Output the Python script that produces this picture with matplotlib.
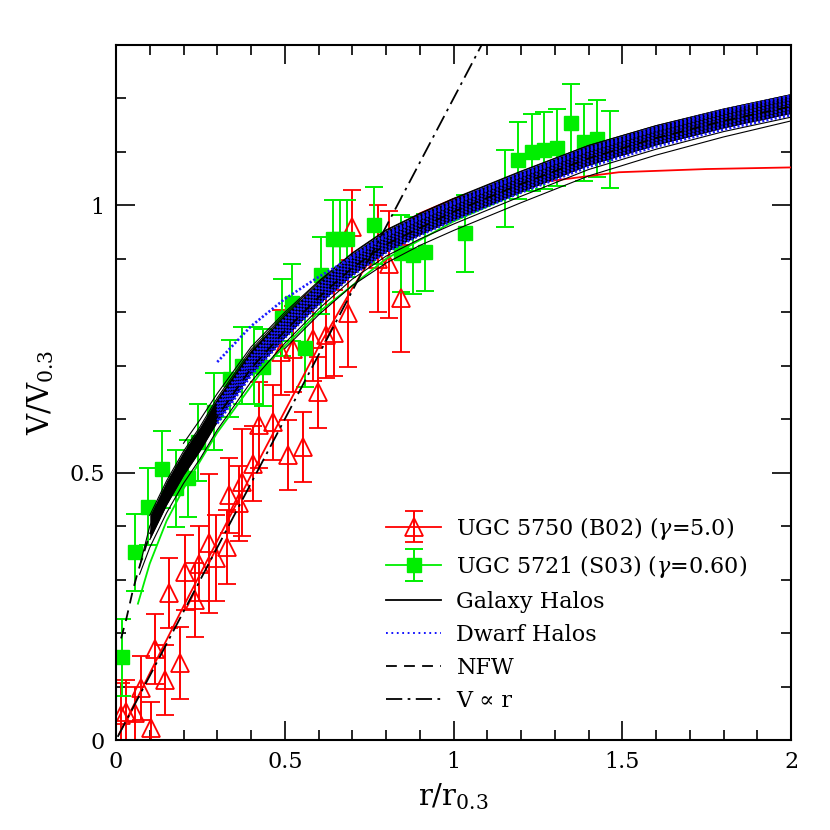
import numpy as np
import matplotlib
matplotlib.use("Agg")
import matplotlib.pyplot as plt
from matplotlib.legend_handler import HandlerErrorbar

plt.rcParams['font.family'] = ['DejaVu Serif']
plt.rcParams['mathtext.fontset'] = 'dejavuserif'

# ---------------- data ----------------
# UGC 5750 (B02)
red_x = [0.015, 0.03, 0.056, 0.074, 0.104, 0.116, 0.145, 0.157, 0.19, 0.204, 0.234, 0.246,
         0.276, 0.296, 0.329, 0.335, 0.364, 0.373, 0.406, 0.424, 0.465, 0.49, 0.51, 0.525,
         0.554, 0.584, 0.598, 0.622, 0.646, 0.687, 0.70, 0.776, 0.81, 0.844]
red_y = [0.047, 0.052, 0.050, 0.097, 0.022, 0.170, 0.112, 0.275, 0.144, 0.314, 0.262, 0.330,
         0.368, 0.340, 0.361, 0.458, 0.443, 0.482, 0.517, 0.589, 0.594, 0.725, 0.533, 0.731,
         0.548, 0.751, 0.650, 0.757, 0.761, 0.798, 0.959, 0.900, 0.890, 0.826]
red_err = [0.06, 0.06, 0.05, 0.06, 0.05, 0.065, 0.065, 0.065, 0.068, 0.07, 0.07, 0.07,
           0.13, 0.08, 0.07, 0.07, 0.07, 0.10, 0.07, 0.08, 0.07, 0.08, 0.065, 0.08,
           0.065, 0.08, 0.067, 0.08, 0.08, 0.10, 0.07, 0.10, 0.10, 0.10]

# UGC 5721 (S03)
grn_x = [0.018, 0.056, 0.095, 0.136, 0.178, 0.213, 0.243, 0.29, 0.338, 0.373, 0.41, 0.437,
         0.492, 0.521, 0.56, 0.607, 0.643, 0.664, 0.685, 0.764, 0.843, 0.88, 0.916, 1.034,
         1.153, 1.19, 1.233, 1.268, 1.307, 1.348, 1.387, 1.425, 1.464]
grn_y = [0.155, 0.351, 0.436, 0.506, 0.471, 0.490, 0.557, 0.614, 0.676, 0.700, 0.700, 0.697,
         0.790, 0.818, 0.733, 0.869, 0.938, 0.938, 0.938, 0.963, 0.910, 0.907, 0.912, 0.948,
         1.032, 1.084, 1.099, 1.103, 1.108, 1.155, 1.118, 1.125, 1.105]
grn_err = [0.072] * len(grn_x)

# fits to the two galaxies
rfit_x = [0.01, 0.2, 0.4, 0.6, 0.7, 0.75, 0.8, 0.9, 1.0, 1.1, 1.23, 1.49, 1.75, 2.0]
rfit_y = [0.012, 0.25, 0.495, 0.735, 0.845, 0.895, 0.935, 0.985, 1.012, 1.028, 1.041, 1.062, 1.068, 1.071]
gfit_x = [0.065, 0.1, 0.15, 0.2, 0.3, 0.45, 0.6, 0.8, 1.0, 1.4, 2.0]
gfit_y = [0.255, 0.33, 0.41, 0.47, 0.575, 0.705, 0.80, 0.90, 0.97, 1.08, 1.18]

# Galaxy halos (solid black) band
halo_x = [0.07, 0.10, 0.15, 0.20, 0.25, 0.30, 0.40, 0.50, 0.60, 0.70, 0.80, 0.90, 1.00, 1.20, 1.40, 1.60, 1.80, 2.00]
gal_upper = [np.nan, 0.42, 0.485, 0.54, 0.587, 0.64, 0.73, 0.796, 0.856, 0.91, 0.953, 0.984, 1.012, 1.063, 1.112, 1.149, 1.18, 1.207]
gal_core_lo = [np.nan, 0.375, 0.44, 0.495, 0.542, 0.595, 0.685, 0.753, 0.815, 0.87, 0.913, 0.945, 0.973, 1.025, 1.075, 1.113, 1.145, 1.172]
gal_low_a = [0.31, 0.36, 0.425, 0.48, 0.527, 0.58, 0.67, 0.742, 0.806, 0.862, 0.905, 0.937, 0.965, 1.017, 1.067, 1.105, 1.138, 1.165]
gal_low_b = [np.nan, np.nan, np.nan, np.nan, np.nan, np.nan, np.nan, 0.732, 0.795, 0.85, 0.892, 0.925, 0.953, 1.005, 1.055, 1.094, 1.128, 1.158]
gal_mid = [0.325, 0.40, 0.465, 0.52, 0.566, 0.618, 0.708, 0.775, 0.836, 0.89, 0.933, 0.965, 0.993, 1.045, 1.094, 1.132, 1.163, 1.19]
gal_high = [np.nan, np.nan, np.nan, 0.555, 0.60, 0.648, 0.735, 0.80, 0.858, 0.911, 0.954, 0.985, 1.013, 1.064, 1.112, 1.149, 1.18, 1.207]

# Dwarf halos (dotted blue)
dwarf_x = [0.30, 0.40, 0.50, 0.60, 0.70, 0.80, 0.90, 1.00, 1.20, 1.40, 1.60, 1.80, 2.00]
dwarf_curves = [
    [0.592, 0.682, 0.752, 0.814, 0.869, 0.912, 0.944, 0.972, 1.024, 1.072, 1.110, 1.142, 1.169],
    [0.598, 0.688, 0.758, 0.820, 0.875, 0.918, 0.950, 0.978, 1.030, 1.078, 1.116, 1.148, 1.175],
    [0.604, 0.694, 0.764, 0.826, 0.881, 0.924, 0.956, 0.984, 1.036, 1.084, 1.122, 1.154, 1.181],
    [0.610, 0.700, 0.770, 0.832, 0.887, 0.930, 0.962, 0.990, 1.042, 1.090, 1.128, 1.160, 1.187],
    [0.616, 0.706, 0.776, 0.838, 0.893, 0.936, 0.968, 0.996, 1.048, 1.096, 1.134, 1.166, 1.193],
    [0.622, 0.712, 0.782, 0.844, 0.899, 0.942, 0.974, 1.002, 1.054, 1.102, 1.140, 1.172, 1.199],
    [0.628, 0.718, 0.788, 0.850, 0.905, 0.948, 0.980, 1.008, 1.060, 1.108, 1.146, 1.178, 1.205],
    [0.707, 0.774, 0.825, 0.866, 0.903, 0.944, 0.976, 1.004, 1.056, 1.105, 1.143, 1.176, 1.204],
]

# NFW
nfw_x = [0.015, 0.03, 0.05, 0.065, 0.1, 0.15, 0.2, 0.3, 0.4, 0.5, 0.6, 0.7, 0.8, 1.0, 1.2, 1.4, 1.6, 1.8, 2.0]
nfw_y = [0.19, 0.225, 0.28, 0.315, 0.385, 0.455, 0.51, 0.605, 0.695, 0.765, 0.828, 0.883, 0.927, 0.988, 1.04, 1.088, 1.126, 1.158, 1.185]

# V proportional to r
vr_x = [0.005, 1.1]
vr_y = [0.006, 1.32]

labels = ["UGC 5750 (B02) ($\\gamma$=5.0)", "UGC 5721 (S03) ($\\gamma$=0.60)",
          "Galaxy Halos", "Dwarf Halos", "NFW", "V \u221d r"]

GREEN = '#00ee00'
BLUE = '#1a1aff'

# ---------------- plot ----------------
fig = plt.figure(figsize=(8.3, 8.3), dpi=100)
ax = fig.add_axes([116 / 830, 90 / 830, 675 / 830, 695 / 830])

ekw = dict(capsize=6.5, elinewidth=1.4, capthick=1.4, linestyle='none')
ax.errorbar(red_x, red_y, yerr=red_err, fmt='^', color='red', mfc='none', mec='red',
            ms=13, mew=1.3, zorder=2, **ekw)
ax.errorbar(grn_x, grn_y, yerr=grn_err, fmt='s', color=GREEN, mfc=GREEN, mec=GREEN,
            ms=9.5, zorder=2, **ekw)

ax.plot(rfit_x, rfit_y, color='red', lw=1.3, zorder=3)
ax.plot(gfit_x, gfit_y, color=GREEN, lw=1.3, zorder=3)

# galaxy halos band
ax.fill_between(halo_x, gal_core_lo, gal_upper, color='black', lw=0, zorder=4)
for arr in (gal_upper, gal_core_lo, gal_low_a, gal_low_b, gal_mid, gal_high):
    ax.plot(halo_x, arr, color='black', lw=0.8, zorder=4)

# dwarf halos
for arr in dwarf_curves:
    ax.plot(dwarf_x, arr, color=BLUE, lw=1.9, linestyle=(0, (0.8, 0.8)), zorder=5)

ax.plot(nfw_x, nfw_y, color='black', lw=1.3, linestyle=(0, (6, 4)), zorder=6)
ax.plot(vr_x, vr_y, color='black', lw=1.3, linestyle=(0, (9, 3, 1.5, 3)), zorder=6)

# legend proxies
h_red = ax.errorbar([np.nan], [np.nan], yerr=[0.05], fmt='-^', color='red', mfc='none', mec='red',
                    ms=13, mew=1.3, capsize=6.5, elinewidth=1.4, capthick=1.4, lw=1.3)
h_grn = ax.errorbar([np.nan], [np.nan], yerr=[0.05], fmt='-s', color=GREEN, ms=9.5,
                    capsize=6.5, elinewidth=1.4, capthick=1.4, lw=1.3)
h_gal, = ax.plot([], [], color='black', lw=1.3)
h_dw, = ax.plot([], [], color='blue', lw=1.3, linestyle=(0, (1, 2)))
h_nfw, = ax.plot([], [], color='black', lw=1.3, linestyle=(0, (6, 4)))
h_vr, = ax.plot([], [], color='black', lw=1.3, linestyle=(0, (9, 3, 1.5, 3)))
leg = ax.legend([h_red, h_grn, h_gal, h_dw, h_nfw, h_vr], labels,
                loc='upper left', bbox_to_anchor=(0.37, 0.353), frameon=False,
                fontsize=16, handlelength=2.5, handletextpad=0.68, labelspacing=0.5,
                handler_map={type(h_red): HandlerErrorbar(yerr_size=0.7)})

ax.set_xlim(0, 2)
ax.set_ylim(0, 1.3)
ax.set_xticks([0, 0.5, 1, 1.5, 2])
ax.set_xticklabels(['0', '0.5', '1', '1.5', '2'])
ax.set_yticks([0, 0.5, 1])
ax.set_yticklabels(['0', '0.5', '1'])
ax.set_xticks(np.arange(0, 2.0001, 0.1), minor=True)
ax.set_yticks(np.arange(0, 1.30001, 0.1), minor=True)
ax.tick_params(which='both', direction='in', top=True, right=True, labelsize=16, width=1.2)
ax.tick_params(which='major', length=14, pad=8)
ax.tick_params(which='minor', length=7)
for s in ax.spines.values():
    s.set_linewidth(1.5)

ax.set_xlabel('r/r$_{0.3}$', fontsize=21, labelpad=6)
ax.set_ylabel('V/V$_{0.3}$', fontsize=21, labelpad=10)

fig.savefig('out.png', dpi=100)
